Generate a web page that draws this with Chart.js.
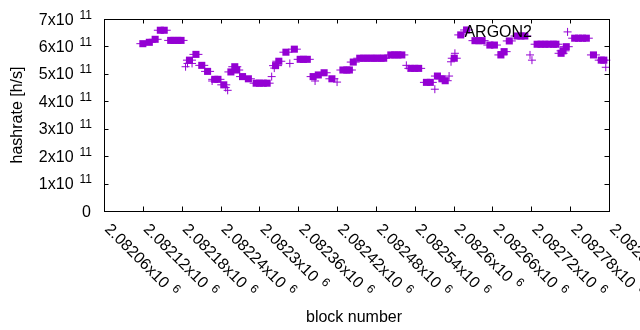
<!DOCTYPE html>
<html>
<head>
<meta charset="utf-8">
<script src="https://cdn.jsdelivr.net/npm/chart.js@4/dist/chart.umd.min.js"></script>
<style>
    body { margin: 0; background: #fff; }
    canvas { display: block; }
</style>
</head>
<body>
<canvas id="hashChart" width="640" height="330"></canvas>
<script>
// block numbers / hashrates
const squareBlocks = [
    2082120, 2082130, 2082139, 2082147, 2082153,
    2082163, 2082168, 2082174, 2082179,
    2082192, 2082202, 2082211, 2082220, 2082231, 2082236, 2082245,
    2082256, 2082262, 2082265, 2082274, 2082283,
    2082295, 2082300, 2082306, 2082312,
    2082325, 2082330, 2082341, 2082354,
    2082363, 2082368, 2082374,
    2082383, 2082391, 2082400, 2082412,
    2082429, 2082435, 2082439, 2082445,
    2082455, 2082461, 2082466, 2082472, 2082477, 2082482, 2082488, 2082492,
    2082503, 2082509, 2082514, 2082520,
    2082534, 2082540, 2082546,
    2082558, 2082564,
    2082575, 2082582, 2082587, 2082601, 2082611, 2082620,
    2082633, 2082639, 2082644,
    2082656, 2082663,
    2082673, 2082678, 2082686,
    2082698, 2082704, 2082710,
    2082729, 2082735, 2082741, 2082747, 2082754, 2082758,
    2082766, 2082769, 2082774,
    2082787, 2082793, 2082799, 2082805,
    2082816, 2082828, 2082832
];
const squareRates = [
    6.10e11, 6.15e11, 6.26e11, 6.59e11, 6.59e11,
    6.22e11, 6.22e11, 6.22e11, 6.22e11,
    5.50e11, 5.71e11, 5.31e11, 5.09e11, 4.80e11, 4.80e11, 4.60e11,
    5.07e11, 5.26e11, 5.14e11, 4.90e11, 4.82e11,
    4.66e11, 4.66e11, 4.66e11, 4.66e11,
    5.30e11, 5.46e11, 5.79e11, 5.90e11,
    5.53e11, 5.53e11, 5.53e11,
    4.90e11, 4.96e11, 5.04e11, 4.82e11,
    5.14e11, 5.14e11, 5.14e11, 5.43e11,
    5.57e11, 5.57e11, 5.57e11, 5.57e11, 5.57e11, 5.57e11, 5.57e11, 5.57e11,
    5.69e11, 5.69e11, 5.69e11, 5.69e11,
    5.20e11, 5.20e11, 5.20e11,
    4.69e11, 4.69e11,
    4.92e11, 4.82e11, 4.75e11, 5.57e11, 6.42e11, 6.60e11,
    6.21e11, 6.21e11, 6.21e11,
    6.05e11, 6.05e11,
    5.69e11, 5.81e11, 6.20e11,
    6.38e11, 6.38e11, 6.38e11,
    6.08e11, 6.08e11, 6.08e11, 6.08e11, 6.08e11, 6.08e11,
    5.75e11, 5.84e11, 5.99e11,
    6.30e11, 6.30e11, 6.30e11, 6.30e11,
    5.69e11, 5.50e11, 5.50e11
];
const plusBlocks = [
    2082186, 2082189, 2082196, 2082227, 2082248, 2082251, 2082319, 2082323,
    2082347, 2082386, 2082420, 2082527, 2082571, 2082593, 2082596, 2082602,
    2082718, 2082721, 2082776, 2082835
];
const plusRates = [
    5.26e11, 5.38e11, 5.38e11, 4.74e11, 4.50e11, 4.40e11, 4.90e11, 5.21e11,
    5.38e11, 4.74e11, 4.70e11, 5.31e11, 4.44e11, 4.92e11, 5.44e11, 5.75e11,
    5.69e11, 5.50e11, 6.53e11, 5.24e11
];
const xTicks = [
    2082060, 2082120, 2082180, 2082240, 2082300, 2082360, 2082420,
    2082480, 2082540, 2082600, 2082660, 2082720, 2082780, 2082840
];
const yTicks = [0, 1e11, 2e11, 3e11, 4e11, 5e11, 6e11, 7e11];

const purple = "#9400d3";
const fontFamily = "'Liberation Sans', Arial, sans-serif";

function toPoints(xs, ys) {
    return xs.map((x, i) => ({ x: x, y: ys[i] }));
}

// gnuplot-like frame, mirrored inward tics and superscript labels
const gnuplotFrame = {
    id: "gnuplotFrame",
    afterDraw(chart) {
        const ctx = chart.ctx;
        const area = chart.chartArea;
        const xs = chart.scales.x;
        const ys = chart.scales.y;
        const tic = 4.5;

        ctx.save();
        ctx.strokeStyle = "#000";
        ctx.lineWidth = 1;
        ctx.strokeRect(area.left + 0.5, area.top + 0.5, area.right - area.left, area.bottom - area.top);

        ctx.beginPath();
        xTicks.forEach(v => {
            const px = Math.round(xs.getPixelForValue(v)) + 0.5;
            ctx.moveTo(px, area.bottom);
            ctx.lineTo(px, area.bottom - tic);
            ctx.moveTo(px, area.top);
            ctx.lineTo(px, area.top + tic);
        });
        yTicks.forEach(v => {
            const py = Math.round(ys.getPixelForValue(v)) + 0.5;
            ctx.moveTo(area.left, py);
            ctx.lineTo(area.left + tic, py);
            ctx.moveTo(area.right, py);
            ctx.lineTo(area.right - tic, py);
        });
        ctx.stroke();

        ctx.fillStyle = "#000";

        // y tick labels
        yTicks.forEach(v => {
            const py = ys.getPixelForValue(v);
            const right = 92;
            if (v === 0) {
                ctx.font = "16px " + fontFamily;
                ctx.textAlign = "right";
                ctx.textBaseline = "alphabetic";
                ctx.fillText("0", right - 1, py + 5.5);
                return;
            }
            ctx.font = "12px " + fontFamily;
            ctx.textAlign = "right";
            ctx.textBaseline = "alphabetic";
            const sup = "11";
            const supW = ctx.measureText(sup).width;
            ctx.fillText(sup, right, py - 0.5);
            ctx.font = "16px " + fontFamily;
            ctx.fillText((v / 1e11) + "x10", right - supW - 6, py + 5.5);
        });

        // x tick labels, rotated 45 degrees
        xTicks.forEach(v => {
            const px = xs.getPixelForValue(v);
            const main = parseFloat((v / 1e6).toFixed(5)).toString() + "x10";
            ctx.save();
            ctx.translate(px, area.bottom + 19);
            ctx.rotate(Math.PI / 4);
            ctx.textAlign = "left";
            ctx.textBaseline = "alphabetic";
            ctx.font = "16px " + fontFamily;
            ctx.fillText(main, 0, 0);
            const w = ctx.measureText(main).width;
            ctx.font = "12px " + fontFamily;
            ctx.fillText("6", w + 6, -6);
            ctx.restore();
        });

        // axis titles
        ctx.font = "16px " + fontFamily;
        ctx.textAlign = "center";
        ctx.textBaseline = "alphabetic";
        ctx.fillText("block number", 354, 321.5);
        ctx.save();
        ctx.translate(21.5, 115);
        ctx.rotate(-Math.PI / 2);
        ctx.fillText("hashrate [h/s]", 0, 0);
        ctx.restore();

        // key
        ctx.textAlign = "right";
        ctx.fillText("ARGON2", 532, 36.5);
        ctx.restore();
    }
};

new Chart(document.getElementById("hashChart"), {
    type: "scatter",
    data: {
        datasets: [
            {
                label: "ARGON2",
                data: toPoints(squareBlocks, squareRates),
                pointStyle: "line",
                pointRadius: 6.5,
                borderColor: purple,
                pointBorderWidth: 1,
                clip: false
            },
            {
                label: "ARGON2",
                data: toPoints(squareBlocks, squareRates),
                pointStyle: "rect",
                pointRadius: 5,
                backgroundColor: purple,
                borderColor: purple,
                pointBorderWidth: 0,
                clip: false
            },
            {
                label: "ARGON2",
                data: toPoints(plusBlocks, plusRates),
                pointStyle: "cross",
                pointRadius: 4,
                borderColor: purple,
                pointBorderWidth: 1,
                clip: false
            }
        ]
    },
    options: {
        responsive: false,
        animation: false,
        events: [],
        layout: { padding: { top: 19, right: 31, left: 0, bottom: 0 } },
        plugins: {
            legend: { display: false },
            tooltip: { enabled: false }
        },
        scales: {
            x: {
                type: "linear",
                min: xTicks[0],
                max: xTicks[xTicks.length - 1],
                grid: { display: false },
                border: { display: false },
                ticks: { display: false },
                afterBuildTicks: s => { s.ticks = xTicks.map(v => ({ value: v })); },
                afterFit: s => { s.height = 119; }
            },
            y: {
                type: "linear",
                min: 0,
                max: 7e11,
                grid: { display: false },
                border: { display: false },
                ticks: { display: false },
                afterBuildTicks: s => { s.ticks = yTicks.map(v => ({ value: v })); },
                afterFit: s => { s.width = 104; }
            }
        }
    },
    plugins: [gnuplotFrame]
});
</script>
</body>
</html>
